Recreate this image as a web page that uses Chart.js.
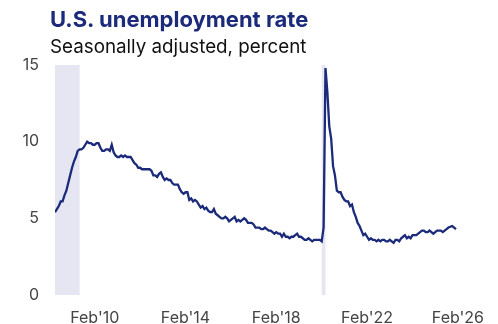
<!DOCTYPE html>
<html>
<head>
<meta charset="utf-8">
<script src="https://cdn.jsdelivr.net/npm/chart.js@4.4.1/dist/chart.umd.min.js"></script>
<style>
  html, body { margin: 0; padding: 0; background: #fff; }
  #wrap { position: relative; width: 498px; height: 324px; overflow: hidden; }
  #title { position: absolute; left: 50px; top: 6px; font-family: Inter, "Open Sans", sans-serif; font-weight: 700; font-size: 22px; color: #1b2a7a; white-space: nowrap; }
  #subtitle { position: absolute; left: 50px; top: 35px; font-family: Inter, "Open Sans", sans-serif; font-size: 18.8px; color: #111; white-space: nowrap; }
  canvas { position: absolute; left: 0; top: 0; }
</style>
</head>
<body>
<div id="wrap">
  <canvas id="c" width="498" height="324"></canvas>
  <div id="title">U.S. unemployment rate</div>
  <div id="subtitle">Seasonally adjusted, percent</div>
</div>
<script>
// Monthly data, starting May 2008 (index 0)
const startYear = 2008;
const startMonth = 4; // 0-based: May
const rate = [
  // 2008 May-Dec
  5.4, 5.6, 5.8, 6.1, 6.1, 6.5, 6.8, 7.3,
  // 2009
  7.8, 8.3, 8.7, 9.0, 9.4, 9.5, 9.5, 9.6, 9.8, 10.0, 9.9, 9.9,
  // 2010
  9.8, 9.8, 9.9, 9.9, 9.6, 9.4, 9.4, 9.5, 9.5, 9.4, 9.8, 9.3,
  // 2011
  9.1, 9.0, 9.0, 9.1, 9.0, 9.1, 9.0, 9.0, 9.0, 8.8, 8.6, 8.5,
  // 2012
  8.3, 8.3, 8.2, 8.2, 8.2, 8.2, 8.2, 8.1, 7.8, 7.8, 7.7, 7.9,
  // 2013
  8.0, 7.7, 7.5, 7.6, 7.5, 7.5, 7.3, 7.2, 7.2, 7.2, 6.9, 6.7,
  // 2014
  6.6, 6.7, 6.7, 6.2, 6.3, 6.1, 6.2, 6.1, 5.9, 5.7, 5.8, 5.6,
  // 2015
  5.7, 5.5, 5.4, 5.4, 5.6, 5.3, 5.2, 5.1, 5.0, 5.0, 5.1, 5.0,
  // 2016
  4.8, 4.9, 5.0, 5.1, 4.8, 4.9, 4.8, 4.9, 5.0, 4.9, 4.7, 4.7,
  // 2017
  4.7, 4.6, 4.4, 4.4, 4.4, 4.3, 4.3, 4.4, 4.3, 4.2, 4.2, 4.1,
  // 2018
  4.0, 4.1, 4.0, 4.0, 3.8, 4.0, 3.8, 3.8, 3.7, 3.8, 3.8, 3.9,
  // 2019
  4.0, 3.8, 3.8, 3.7, 3.6, 3.6, 3.7, 3.6, 3.5, 3.6, 3.6, 3.6,
  // 2020
  3.6, 3.5, 4.4, 14.8, 13.2, 11.0, 10.2, 8.4, 7.8, 6.8, 6.7, 6.7,
  // 2021
  6.4, 6.2, 6.1, 6.1, 5.8, 5.9, 5.4, 5.1, 4.7, 4.5, 4.2, 3.9,
  // 2022
  4.0, 3.8, 3.6, 3.7, 3.6, 3.6, 3.5, 3.6, 3.5, 3.6, 3.6, 3.5,
  // 2023
  3.5, 3.6, 3.5, 3.4, 3.6, 3.6, 3.5, 3.7, 3.8, 3.9, 3.7, 3.8,
  // 2024
  3.7, 3.9, 3.9, 3.9, 4.0, 4.1, 4.2, 4.2, 4.1, 4.1, 4.2, 4.1,
  // 2025 (Oct not published)
  4.0, 4.1, 4.2, 4.2, 4.2, 4.1, 4.2, 4.3, 4.4, null, 4.5, 4.4,
  // 2026
  4.3
];
// Recession shading, as month indices from May 2008
const recessionStart = [0, 141];   // (clipped) Dec 2007, Feb 2020
const recessionEnd   = [13, 143];  // Jun 2009, Apr 2020
const xTickIndex = [21, 69, 117, 165, 213]; // Feb of 2010, 2014, 2018, 2022, 2026
const yTicks = [0, 5, 10, 15];
const monthNames = ['Jan','Feb','Mar','Apr','May','Jun','Jul','Aug','Sep','Oct','Nov','Dec'];

function idxLabel(i) {
  const m = startMonth + i;
  const y = startYear + Math.floor(m / 12);
  return monthNames[m % 12] + "'" + String(y).slice(2);
}

const points = rate.map((v, i) => ({ x: i, y: v }));

const shadePlugin = {
  id: 'shade',
  beforeDatasetsDraw(chart) {
    const { ctx, chartArea, scales } = chart;
    ctx.save();
    ctx.fillStyle = '#e5e6f2';
    for (let k = 0; k < recessionStart.length; k++) {
      const x0 = scales.x.getPixelForValue(recessionStart[k]);
      const x1 = scales.x.getPixelForValue(recessionEnd[k]);
      ctx.fillRect(x0, chartArea.top, x1 - x0, chartArea.bottom - chartArea.top);
    }
    ctx.restore();
  }
};

const font = { family: 'Inter, "Open Sans", sans-serif', size: 16 };

new Chart(document.getElementById('c'), {
  type: 'line',
  data: {
    datasets: [{
      data: points,
      borderColor: '#1b2a7a',
      borderWidth: 2.3,
      pointRadius: 0,
      tension: 0,
      spanGaps: true,
      fill: false
    }]
  },
  options: {
    responsive: false,
    animation: false,
    events: [],
    layout: { padding: { top: 65, right: 35, bottom: 0, left: 0 } },
    plugins: { legend: { display: false }, tooltip: { enabled: false } },
    scales: {
      x: {
        type: 'linear',
        min: 0,
        max: 213,
        grid: { display: false, drawTicks: false },
        border: { display: false },
        afterBuildTicks(axis) { axis.ticks = xTickIndex.map(v => ({ value: v })); },
        afterFit(axis) { axis.height = 29; },
        ticks: {
          autoSkip: false,
          maxRotation: 0,
          padding: 14,
          color: '#444',
          font: font,
          callback: (v) => idxLabel(v)
        }
      },
      y: {
        min: 0,
        max: 15,
        grid: { display: false, drawTicks: false },
        border: { display: false },
        afterBuildTicks(axis) { axis.ticks = yTicks.map(v => ({ value: v })); },
        afterFit(axis) { axis.width = 55; },
        ticks: { padding: 16, color: '#444', font: font }
      }
    }
  },
  plugins: [shadePlugin]
});
</script>
</body>
</html>
